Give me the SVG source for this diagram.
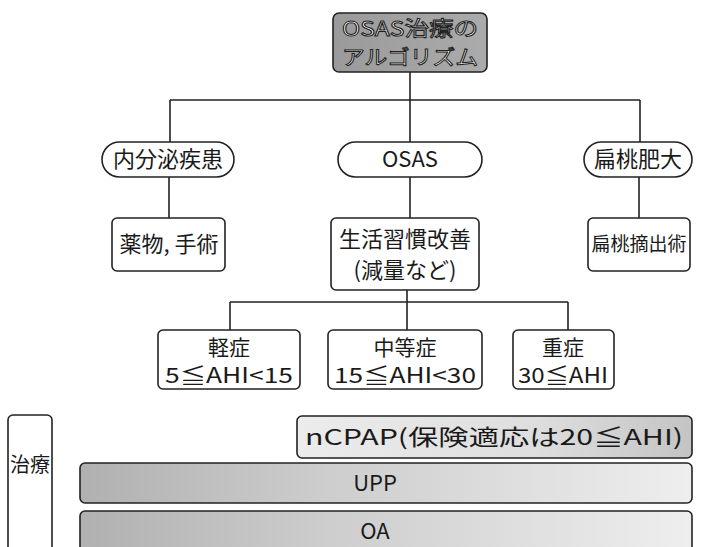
<svg xmlns="http://www.w3.org/2000/svg" width="711" height="547" viewBox="0 0 711 547">
<style>
  text { font-family: "Noto Sans CJK JP", "Liberation Sans", sans-serif; fill: #1a1a1a; text-anchor: middle; }
  .box { fill: #fff; stroke: #222; stroke-width: 1.6; }
  .conn { fill: none; stroke: #222; stroke-width: 1.6; }
  .t22 { font-size: 22px; }
  .t21 { font-size: 21px; }
  .title { font-size: 20px; fill: #fff; stroke: #222; stroke-width: 1; }
</style>
<defs>
  <linearGradient id="gTitle" x1="0" y1="0" x2="1" y2="0">
    <stop offset="0" stop-color="#9a9a9a"/>
    <stop offset="1" stop-color="#ababab"/>
  </linearGradient>
  <linearGradient id="gCpap" x1="0" y1="0" x2="1" y2="0">
    <stop offset="0" stop-color="#ececec"/>
    <stop offset="0.6" stop-color="#dedede"/>
    <stop offset="1" stop-color="#c4c4c4"/>
  </linearGradient>
  <linearGradient id="gBar" x1="0" y1="0" x2="1" y2="0">
    <stop offset="0" stop-color="#b0b0b0"/>
    <stop offset="0.4" stop-color="#cdcdcd"/>
    <stop offset="1" stop-color="#eeeeee"/>
  </linearGradient>
</defs>

<g id="connectors">
  <path class="conn" d="M410 72 V100 M170 100 H640 M170 100 V142 M410 100 V142 M640 100 V142"/>
  <path class="conn" d="M169 177 V218 M410 177 V218 M639 177 V218"/>
  <path class="conn" d="M407 290 V302 M230 302 H568 M230 302 V330 M407 302 V330 M568 302 V330"/>
</g>

<g id="title">
  <rect x="333" y="13" width="154" height="59" rx="6" fill="url(#gTitle)" stroke="#222" stroke-width="1.6"/>
  <text class="title" x="410" y="36" textLength="136" lengthAdjust="spacingAndGlyphs">OSAS治療の</text>
  <text class="title" x="410" y="65" textLength="136" lengthAdjust="spacingAndGlyphs">アルゴリズム</text>
</g>

<g id="pill-endocrine">
  <rect class="box" x="102" y="142" width="132" height="35" rx="17.5"/>
  <text class="t22" x="168" y="167">内分泌疾患</text>
</g>
<g id="pill-osas">
  <rect class="box" x="338" y="142" width="144" height="35" rx="17.5"/>
  <text class="t22" x="410" y="167" font-family="Liberation Sans, sans-serif">OSAS</text>
</g>
<g id="pill-tonsil">
  <rect class="box" x="584" y="142" width="108" height="35" rx="17.5"/>
  <text class="t22" x="638" y="167">扁桃肥大</text>
</g>

<g id="box-drug">
  <rect class="box" x="112" y="218" width="113" height="53" rx="5"/>
  <text class="t22" x="169" y="252">薬物, 手術</text>
</g>
<g id="box-lifestyle">
  <rect class="box" x="331" y="218" width="148" height="72" rx="5"/>
  <text class="t22" x="405" y="247">生活習慣改善</text>
  <text class="t22" x="405" y="278">(減量など)</text>
</g>
<g id="box-tonsillectomy">
  <rect class="box" x="588" y="218" width="102" height="53" rx="5"/>
  <text x="639" y="251" font-size="19">扁桃摘出術</text>
</g>

<g id="box-mild">
  <rect class="box" x="158" y="330" width="142" height="59" rx="5"/>
  <text class="t21" x="229" y="355">軽症</text>
  <text class="t21" x="229" y="383" textLength="128" lengthAdjust="spacingAndGlyphs">5≦AHI&lt;15</text>
</g>
<g id="box-moderate">
  <rect class="box" x="328" y="330" width="154" height="59" rx="5"/>
  <text class="t21" x="405" y="355">中等症</text>
  <text class="t21" x="405" y="383" textLength="142" lengthAdjust="spacingAndGlyphs">15≦AHI&lt;30</text>
</g>
<g id="box-severe">
  <rect class="box" x="513" y="330" width="101" height="59" rx="5"/>
  <text class="t21" x="563" y="355">重症</text>
  <text class="t21" x="563" y="383" textLength="90" lengthAdjust="spacingAndGlyphs">30≦AHI</text>
</g>

<g id="treatment-label">
  <rect class="box" x="8" y="415" width="44" height="150" rx="5"/>
  <text x="30" y="472" font-size="20">治療</text>
</g>
<g id="bar-ncpap">
  <rect x="297" y="416" width="395" height="42" rx="5" fill="url(#gCpap)" stroke="#222" stroke-width="1.6"/>
  <text class="t22" x="494" y="445" textLength="378" lengthAdjust="spacingAndGlyphs">nCPAP(保険適応は20≦AHI)</text>
</g>
<g id="bar-upp">
  <rect x="80" y="463" width="612" height="40" rx="5" fill="url(#gBar)" stroke="#222" stroke-width="1.6"/>
  <text class="t22" x="375" y="491" font-family="Liberation Sans, sans-serif">UPP</text>
</g>
<g id="bar-oa">
  <rect x="80" y="511" width="612" height="50" rx="5" fill="url(#gBar)" stroke="#222" stroke-width="1.6"/>
  <text class="t22" x="375" y="539" font-family="Liberation Sans, sans-serif">OA</text>
</g>
</svg>
